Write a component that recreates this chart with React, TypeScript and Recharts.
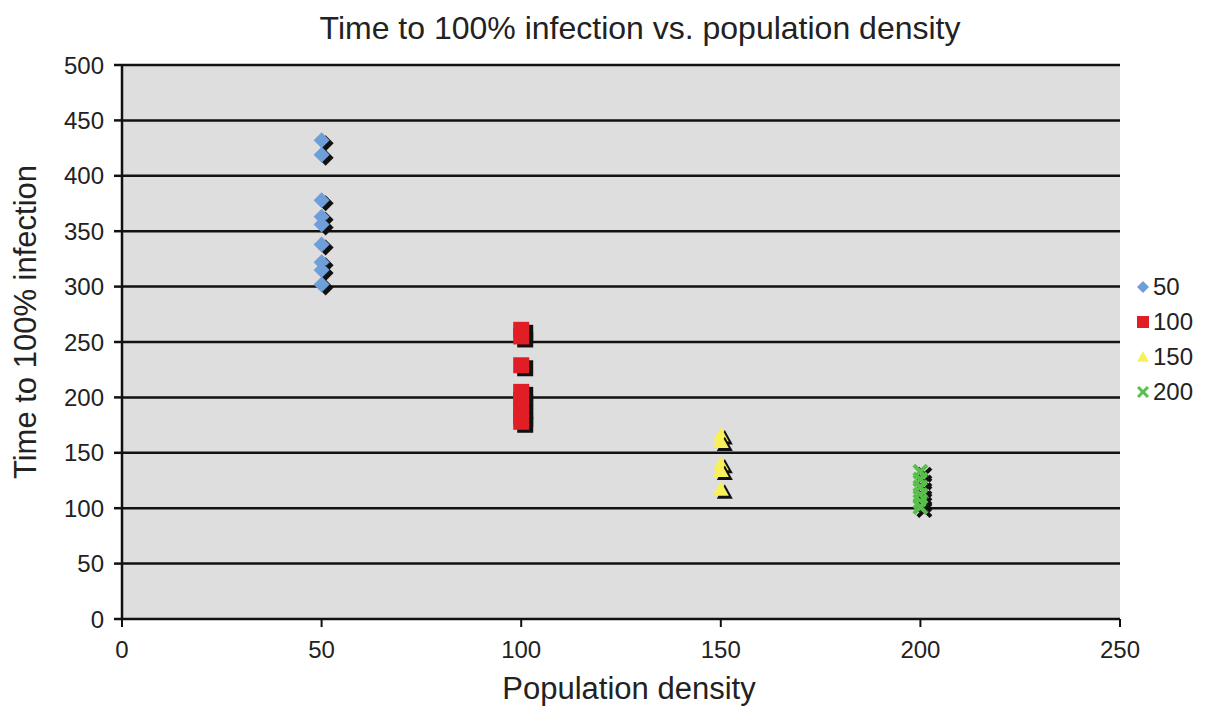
import React from "react";
import { ScatterChart, Scatter, XAxis, YAxis, CartesianGrid } from "recharts";

const density50 = [432, 419, 378, 363, 356, 338, 322, 315, 302];
const density100 = [261, 255, 229, 205, 198, 190, 183, 178];
const density150 = [166, 160, 140, 134, 117];
const density200 = [133, 126, 119, 112, 106, 101];
const yTicks = [0, 50, 100, 150, 200, 250, 300, 350, 400, 450, 500];
const xTicks = [0, 50, 100, 150, 200, 250];

const toPoints = (x: number, ys: number[]) => ys.map((y) => ({ x, y }));

const seriesList = [
  { name: "50", color: "#6f9fd8", kind: "diamond", data: toPoints(50, density50) },
  { name: "100", color: "#e11d25", kind: "square", data: toPoints(100, density100) },
  { name: "150", color: "#f7f05a", kind: "triangle", data: toPoints(150, density150) },
  { name: "200", color: "#58c04a", kind: "cross", data: toPoints(200, density200) },
];

const FONT = '"Liberation Sans", Arial, sans-serif';

function markPath(kind: string, cx: number, cy: number, r: number) {
  if (kind === "diamond")
    return `M${cx},${cy - r}L${cx + r},${cy}L${cx},${cy + r}L${cx - r},${cy}Z`;
  if (kind === "square")
    return `M${cx - r},${cy - r}H${cx + r}V${cy + r}H${cx - r}Z`;
  if (kind === "triangle")
    return `M${cx},${cy - r}L${cx + r},${cy + r * 0.8}L${cx - r},${cy + r * 0.8}Z`;
  // cross
  const w = r * 0.35;
  return `M${cx - r},${cy - r + w}L${cx - r + w},${cy - r}L${cx},${cy - w}L${cx + r - w},${cy - r}L${cx + r},${cy - r + w}L${cx + w},${cy}L${cx + r},${cy + r - w}L${cx + r - w},${cy + r}L${cx},${cy + w}L${cx - r + w},${cy + r}L${cx - r},${cy + r - w}L${cx - w},${cy}Z`;
}

const makeShape = (kind: string, color: string) => (props: any) => {
  const { cx, cy } = props;
  const r = 8;
  return (
    <g>
      <path d={markPath(kind, cx + 4, cy + 3, r)} fill="#111" />
      <path d={markPath(kind, cx, cy, r)} fill={color} />
    </g>
  );
};

const yLabel = (props: any) => {
  const vb = props.viewBox || { x: 0, y: 0, width: 0, height: 0 };
  const cx = 17;
  const cy = vb.y + vb.height / 2 - 20;
  return (
    <text x={cx} y={cy} transform={`rotate(-90, ${cx}, ${cy})`} textAnchor="middle" dominantBaseline="central" fill="#222" fontSize={31} fontFamily={FONT}>
      Time to 100% infection
    </text>
  );
};

const xLabel = (props: any) => {
  const vb = props.viewBox || { x: 0, y: 0, width: 0, height: 0 };
  return (
    <text x={vb.x + vb.width / 2 + 8} y={691} textAnchor="middle" fill="#222" fontSize={31} fontFamily={FONT}>
      Population density
    </text>
  );
};

export default function App() {
  return (
    <div style={{ position: "relative", width: 1201, height: 702, fontFamily: FONT, background: "#fff" }}>
      <div style={{ position: "absolute", top: 2, left: 133, width: 998, textAlign: "center", fontSize: 32, color: "#222" }}>
        Time to 100% infection vs. population density
      </div>
      <ScatterChart width={1201} height={702} margin={{ top: 57, right: 89, bottom: 4, left: 2 }}>
        <CartesianGrid vertical={false} fill="#dedede" stroke="#111" strokeWidth={2.5} horizontalValues={yTicks} />
        <XAxis
          type="number"
          dataKey="x"
          domain={[0, 250]}
          ticks={xTicks}
          height={87}
          stroke="#111"
          strokeWidth={2}
          tickSize={8}
          tickMargin={14}
          tick={{ fill: "#222", fontSize: 24, fontFamily: FONT }}
          label={{ content: xLabel }}
        />
        <YAxis
          type="number"
          dataKey="y"
          domain={[0, 500]}
          ticks={yTicks}
          width={112}
          stroke="#111"
          strokeWidth={2.5}
          tickSize={8}
          tickMargin={10}
          tick={{ fill: "#222", fontSize: 24, fontFamily: FONT }}
          label={{ content: yLabel }}
        />
        {seriesList.map((s) => (
          <Scatter key={s.name} name={s.name} data={s.data} isAnimationActive={false} shape={makeShape(s.kind, s.color)} />
        ))}
      </ScatterChart>
      <div style={{ position: "absolute", left: 1126, top: 261, fontSize: 24, color: "#222", lineHeight: "35px" }}>
        {seriesList.map((s) => (
          <div key={s.name} style={{ display: "flex", alignItems: "center" }}>
            <svg width={18} height={18} style={{ marginRight: 1 }}>
              <path d={markPath(s.kind, 9, 9, 6)} fill={s.color} />
            </svg>
            {s.name}
          </div>
        ))}
      </div>
    </div>
  );
}
